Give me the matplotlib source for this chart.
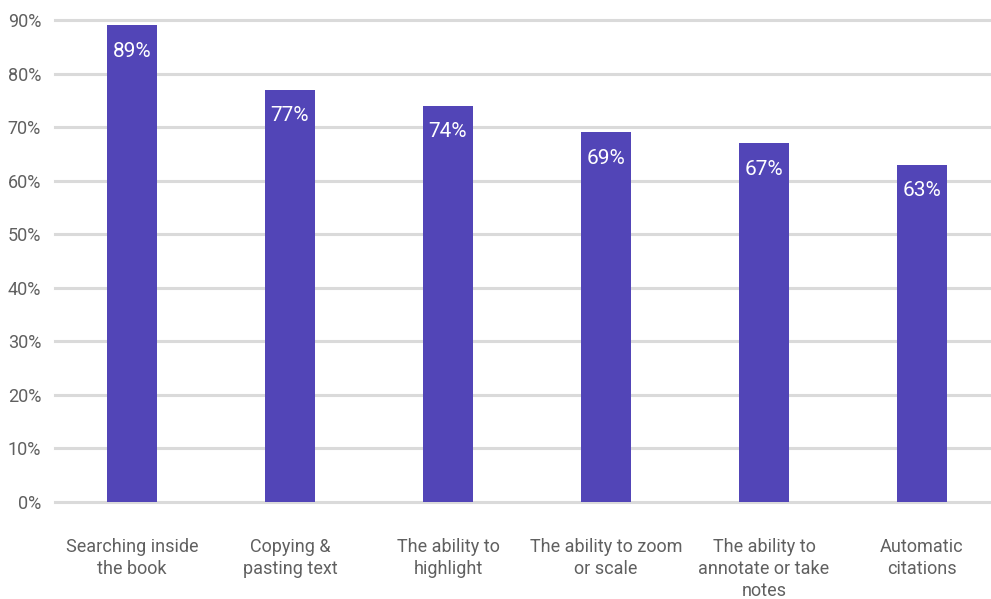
import matplotlib.pyplot as plt

plt.rcParams['font.family'] = ['Roboto', 'DejaVu Sans']

features = ['Searching inside\nthe book', 'Copying &\npasting text',
            'The ability to\nhighlight', 'The ability to zoom\nor scale',
            'The ability to\nannotate or take\nnotes', 'Automatic\ncitations']
shares = [89, 77, 74, 69, 67, 63]
yticks = [0, 10, 20, 30, 40, 50, 60, 70, 80, 90]

bar_color = '#5245b7'
grid_color = '#dadada'
text_color = '#606060'

fig = plt.figure(figsize=(9.91, 5.99), dpi=100)
ax = fig.add_axes([0.0555, 0.162, 0.9445, 0.8046])

x = list(range(len(features)))
bars = ax.bar(x, shares, width=0.32, color=bar_color, zorder=3)

for b, v in zip(bars, shares):
    ax.annotate(f'{v}%', (b.get_x() + b.get_width() / 2, v),
                xytext=(0, -12), textcoords='offset points',
                ha='center', va='top', color='white', fontsize=15,
                zorder=4)

ax.set_xlim(-0.487, 5.437)
ax.set_ylim(0, 90)
ax.set_yticks(yticks)
ax.set_yticklabels([f'{t}%' for t in yticks], fontsize=13,
                   color=text_color)
ax.set_xticks(x)
ax.set_xticklabels(features, fontsize=13, color=text_color,
                   linespacing=1.3)
ax.tick_params(axis='y', length=0, pad=10)
ax.tick_params(axis='x', length=0, pad=26)

for t in yticks:
    ax.axhline(t, color=grid_color, lw=2.2, zorder=1, clip_on=False)

for s in ax.spines.values():
    s.set_visible(False)

fig.savefig('out.png', dpi=100)
